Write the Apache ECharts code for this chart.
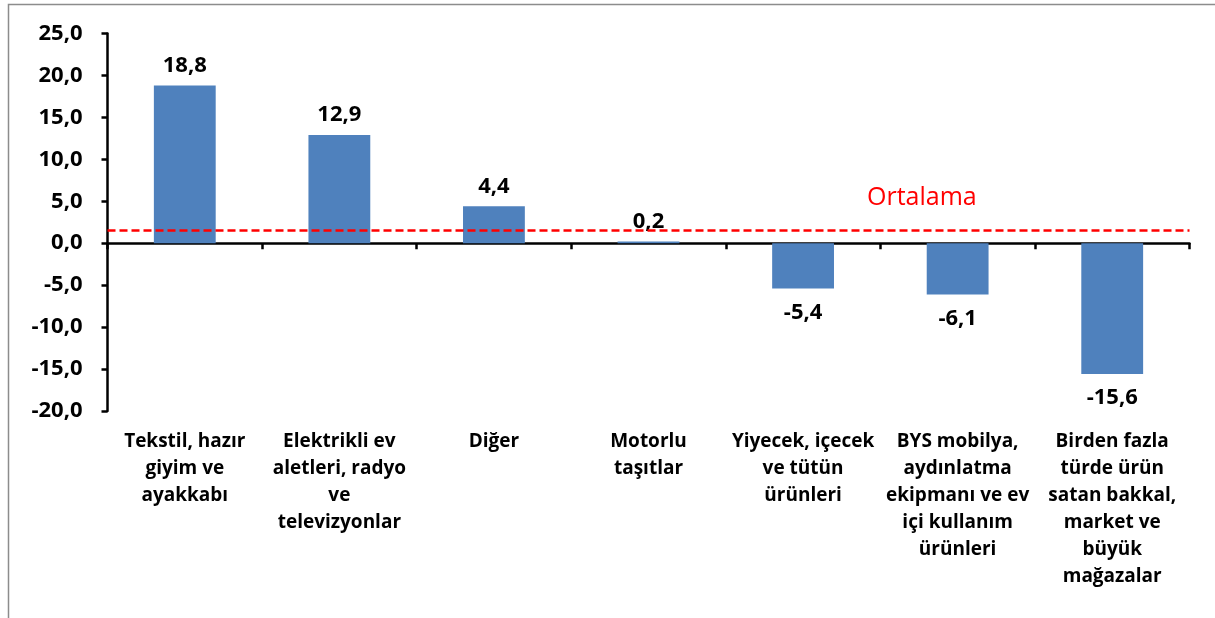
<!DOCTYPE html>
<html>
<head>
    <meta charset="utf-8">
    <title>Ortalama</title>
    <script src="https://cdn.jsdelivr.net/npm/echarts@6/dist/echarts.min.js"></script>
    <style>
        html, body { margin: 0; padding: 0; background: #fff; }
        #main { width: 1215px; height: 618px; }
    </style>
</head>
<body>
<div id="main"></div>
<script>
// kategoriler
var categories = [
    'Tekstil, hazır\ngiyim ve\nayakkabı',
    'Elektrikli ev\naletleri, radyo\nve\ntelevizyonlar',
    'Diğer',
    'Motorlu\ntaşıtlar',
    'Yiyecek, içecek\nve tütün\nürünleri',
    'BYS mobilya,\naydınlatma\nekipmanı ve ev\niçi kullanım\nürünleri',
    'Birden fazla\ntürde ürün\nsatan bakkal,\nmarket ve\nbüyük\nmağazalar'
];
var values = [18.8, 12.9, 4.4, 0.2, -5.4, -6.1, -15.6];
var average = 1.6;
var yTicks = { min: -20, max: 25, step: 5 };

var font = 'Open Sans';
var chart = echarts.init(document.getElementById('main'));

function fmt(v) {
    return v.toFixed(1).replace('.', ',');
}

var barData = values.map(function (v) {
    return {
        value: v,
        label: { position: v < 0 ? 'bottom' : 'top', distance: v < 0 ? 13 : 9 }
    };
});

var option = {
    backgroundColor: '#ffffff',
    animation: false,
    grid: { left: 107.5, right: 25.5, top: 33.5, bottom: 207 },
    graphic: [
        {   // dış çerçeve
            type: 'rect',
            shape: { x: 8.5, y: 4.5, width: 1400, height: 800 },
            style: { fill: null, stroke: '#8c8c8c', lineWidth: 1.5 },
            silent: true
        },
        {
            type: 'text',
            left: 867, top: 185,
            style: { text: 'Ortalama', fill: '#ff0000', font: '25px "' + font + '"' }
        }
    ],
    xAxis: [
        {
            type: 'category',
            data: categories,
            axisLine: { onZero: true, lineStyle: { color: '#000', width: 2.5 } },
            axisTick: { show: true, length: 6, lineStyle: { color: '#000', width: 2.5 } },
            axisLabel: { show: false },
            splitLine: { show: false }
        },
        {
            type: 'category',
            data: categories,
            position: 'bottom',
            axisLine: { show: false, onZero: false },
            axisTick: { show: false },
            axisLabel: {
                interval: 0,
                margin: 17,
                color: '#000',
                fontFamily: font,
                fontWeight: 'bold',
                fontSize: 19,
                lineHeight: 27,
                align: 'center'
            },
            splitLine: { show: false }
        }
    ],
    yAxis: {
        type: 'value',
        min: yTicks.min,
        max: yTicks.max,
        interval: yTicks.step,
        axisLine: { show: true, lineStyle: { color: '#000', width: 2.5 } },
        axisTick: { show: true, length: 6, lineStyle: { color: '#000', width: 2.5 } },
        axisLabel: {
            formatter: fmt,
            color: '#000',
            fontFamily: font,
            fontWeight: 'bold',
            fontSize: 22,
            margin: 25
        },
        splitLine: { show: false }
    },
    series: [
        {
            type: 'bar',
            xAxisIndex: 0,
            barWidth: '40%',
            itemStyle: { color: '#4f81bd' },
            label: {
                show: true,
                formatter: function (p) { return fmt(p.value); },
                color: '#000',
                fontFamily: font,
                fontWeight: 'bold',
                fontSize: 22
            },
            data: barData,
            markLine: {
                silent: true,
                symbol: 'none',
                label: { show: false },
                lineStyle: { color: '#ff0000', type: [8, 4], width: 2.5 },
                data: [{ yAxis: average }]
            }
        }
    ]
};

chart.setOption(option);
</script>
</body>
</html>
